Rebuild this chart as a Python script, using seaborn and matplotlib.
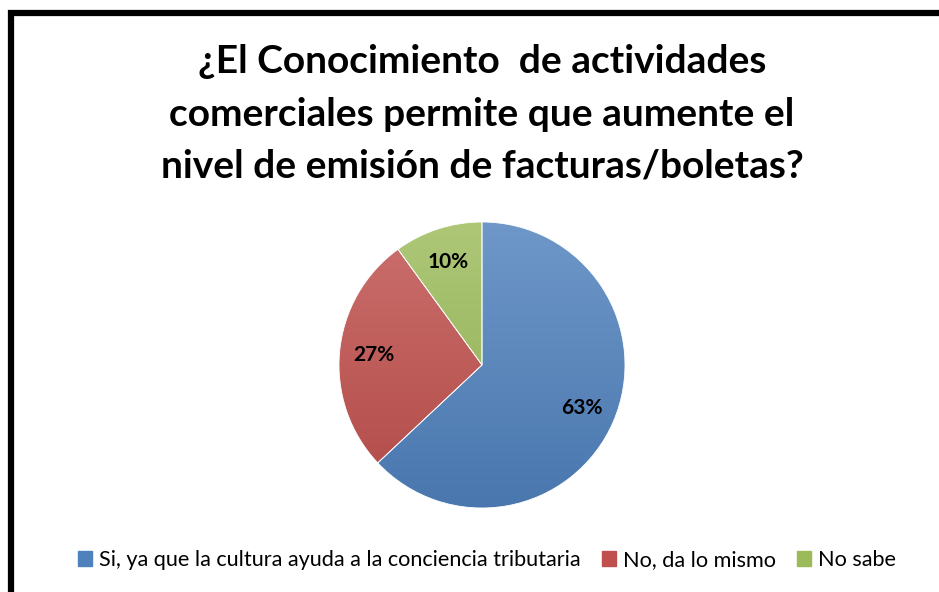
import matplotlib.pyplot as plt
import matplotlib.patches as mpatches
import numpy as np
import seaborn as sns

sns.set_theme(style="white")
plt.rcParams['font.family'] = ['Lato', 'DejaVu Sans']
plt.rcParams['text.color'] = 'black'

categorias = ["Si, ya que la cultura ayuda a la conciencia tributaria",
              "No, da lo mismo", "No sabe"]
porcentajes = [63, 27, 10]
colores = ["#4F81BD", "#C0504D", "#9BBB59"]
titulo = "¿El Conocimiento  de actividades\ncomerciales permite que aumente el\nnivel de emisión de facturas/boletas?"

fig = plt.figure(figsize=(9.39, 5.92), dpi=100)

# marco negro del grafico
fig.patches.append(mpatches.Rectangle((11 / 939, -0.1), 1.2, 1 - 13 / 592 + 0.1,
                                      transform=fig.transFigure, fill=False,
                                      edgecolor="black", linewidth=4.5))

fig.text(482 / 939, 1 - 114 / 592, titulo, ha="center", va="center",
         fontsize=28, fontweight="bold", linespacing=1.6, color="black")

ax = fig.add_axes([(482 - 143) / 939, (592 - 508) / 592, 286 / 939, 286 / 592])
wedges, textos, autotextos = ax.pie(porcentajes, colors=colores, startangle=90,
                                     counterclock=False, autopct="%d%%",
                                     pctdistance=0.76,
                                     wedgeprops=dict(edgecolor="white", linewidth=0.6),
                                     textprops=dict(fontsize=15, fontweight="bold",
                                                    color="black"))

# degradado vertical en cada sector
grad = np.linspace(0, 1, 256).reshape(-1, 1)
for w, c in zip(wedges, colores):
    base = np.array(plt.matplotlib.colors.to_rgb(c))
    claro = base + (1 - base) * 0.18
    oscuro = base * 0.92
    img = claro[None, None, :] * (1 - grad[:, :, None]) + oscuro[None, None, :] * grad[:, :, None]
    im = ax.imshow(img, extent=(-1, 1, -1, 1), origin="upper", zorder=1, aspect="auto")
    im.set_clip_path(w)
    w.set_facecolor("none")
    w.set_zorder(2)
for t in autotextos:
    t.set_zorder(3)
ax.set_xlim(-1, 1)
ax.set_ylim(-1, 1)
ax.set_aspect("equal")
ax.axis("off")

handles = [mpatches.Patch(color=c, label=l) for c, l in zip(colores, categorias)]
leg = fig.legend(handles=handles, loc="center", bbox_to_anchor=(487 / 939, 1 - 560 / 592),
                 ncol=3, frameon=False, fontsize=15.6, handlelength=0.65, handleheight=0.65,
                 handletextpad=0.3, columnspacing=1.0)
for t in leg.get_texts():
    t.set_color("black")

fig.savefig("out.png", dpi=100)
